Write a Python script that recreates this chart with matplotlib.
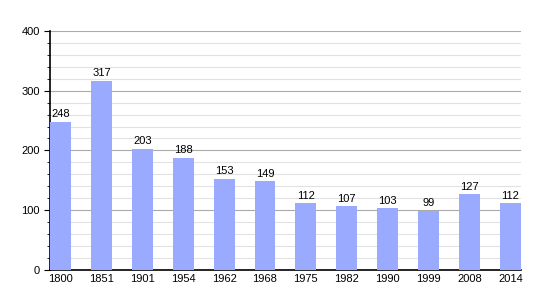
import matplotlib.pyplot as plt
import numpy as np
from matplotlib.ticker import MultipleLocator

plt.rcParams["font.family"] = ["Liberation Sans", "DejaVu Sans"]

years = ["1800", "1851", "1901", "1954", "1962", "1968", "1975", "1982", "1990", "1999", "2008", "2014"]
population = [248, 317, 203, 188, 153, 149, 112, 107, 103, 99, 127, 112]

fig = plt.figure(figsize=(5.5, 3), dpi=100, facecolor="white")
ax = fig.add_axes([0.091, 0.1, 0.856, 0.797])

x = np.arange(len(years))
w = 0.51
ax.bar(x, population, width=w, color="#9aabff", zorder=3)
for xi, v in zip(x, population):
    ax.text(xi, v + 4, str(v), ha="center", va="bottom", fontsize=8, zorder=4)

ax.set_xlim(-w / 2, len(years) - 1 + w / 2)
ax.set_ylim(0, 400)
ax.set_xticks(x)
ax.set_xticklabels(years, fontsize=8)
ax.tick_params(axis="x", length=0, pad=3)
ax.yaxis.set_major_locator(MultipleLocator(100))
ax.yaxis.set_minor_locator(MultipleLocator(20))
ax.tick_params(axis="y", which="major", length=4, labelsize=8, direction="out")
ax.tick_params(axis="y", which="minor", length=2.5, direction="out")
ax.grid(axis="y", which="major", color="#aaaaaa", linewidth=0.8, zorder=0)
ax.grid(axis="y", which="minor", color="#e2e2e2", linewidth=0.8, zorder=0)
for s in ["top", "right"]:
    ax.spines[s].set_visible(False)
ax.spines["left"].set_linewidth(1.2)
ax.spines["bottom"].set_linewidth(1.2)

fig.savefig("out.png", dpi=100, facecolor="white")
